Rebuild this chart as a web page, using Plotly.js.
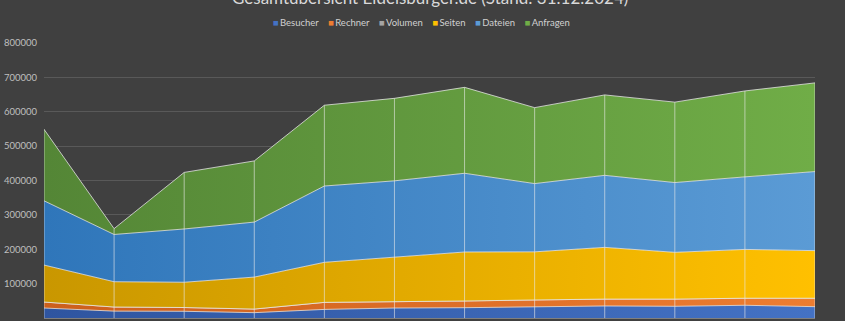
<!DOCTYPE html>
<html><head><meta charset="utf-8">
<script src="https://cdn.plot.ly/plotly-3.0.1.min.js"></script>
<style>html,body{margin:0;padding:0;background:#404040;}#chart{width:845px;height:321px;}</style>
</head><body><div id="chart"></div>
<script>
const months = ["Jan","Feb","Mär","Apr","Mai","Jun","Jul","Aug","Sep","Okt","Nov","Dez"];
const besucher = [29000, 20000, 19500, 15500, 25000, 29000, 30000, 32000, 35000, 34000, 37000, 33000];
const rechner  = [17500, 12000, 11000, 10500, 20500, 17500, 19500, 20500, 20000, 21000, 20500, 24500];
const volumen  = [0, 0, 0, 0, 0, 0, 0, 0, 0, 0, 0, 0];
const seiten   = [107500, 73500, 73500, 93000, 116500, 130000, 142500, 140000, 150500, 136000, 142000, 138500];
const dateien  = [187000, 137500, 155000, 160000, 222000, 222500, 229000, 198500, 209500, 203000, 211000, 230000];
const anfragen = [208000, 17000, 164500, 178000, 235000, 240000, 250000, 221000, 234000, 234000, 250000, 258000];

const seriesNames = ["Besucher","Rechner","Volumen","Seiten","Dateien","Anfragen"];
const seriesValues = [besucher, rechner, volumen, seiten, dateien, anfragen];
const colorsLight = ["#4472C4","#ED7D31","#A5A5A5","#FFC000","#5B9BD5","#70AD47"];
const colorsDark  = ["#2F55A0","#CC5F1C","#8A8A8A","#C99700","#2F76BA","#548636"];

const traces = seriesNames.map((name, i) => ({
  type: 'scatter', mode: 'lines', name: name, x: months, y: seriesValues[i],
  stackgroup: 'one', showlegend: false, hoverinfo: 'skip',
  line: {color: 'rgba(235,235,235,0.75)', width: 1},
  fillcolor: colorsLight[i],
  fillgradient: {type: 'horizontal', colorscale: [[0, colorsDark[i]], [1, colorsLight[i]]]}
}));

// drop lines from 0 to stack total at each category
const totals = months.map((m, j) => seriesValues.reduce((s, arr) => s + arr[j], 0));
const dx = [], dy = [];
months.forEach((m, j) => { dx.push(m, m, null); dy.push(0, totals[j], null); });
traces.push({type: 'scatter', mode: 'lines', x: dx, y: dy, showlegend: false, hoverinfo: 'skip',
  line: {color: 'rgba(235,235,235,0.6)', width: 1}});

const legendText = seriesNames.map((n, i) =>
  `<span style="color:${colorsLight[i]}">■</span>\u2009${n}`).join('&nbsp;&nbsp;&nbsp;&nbsp;');

const layout = {
  width: 845, height: 321,
  paper_bgcolor: '#404040', plot_bgcolor: '#404040',
  font: {family: 'Lato, "Open Sans", sans-serif', color: '#BFBFBF', size: 10},
  margin: {l: 44, r: 30, t: 43, b: 3},
  showlegend: false,
  xaxis: {type: 'category', range: [0, 11], showgrid: false, showticklabels: false, zeroline: false,
          showline: true, linecolor: '#7F7F7F', linewidth: 1, fixedrange: true},
  yaxis: {range: [0, 800000], dtick: 100000, tickformat: 'd', gridcolor: '#595959', gridwidth: 1,
          zeroline: false, showline: false, ticklabelstandoff: 6, tickfont: {size: 9.5, color: '#BFBFBF'}},
  annotations: [
    {text: 'Gesamtübersicht Eidelsburger.de (Stand: 31.12.2024)', xref: 'paper', yref: 'paper',
     x: 0.5, xanchor: 'center', y: 1, yanchor: 'middle', yshift: 43 + 3, showarrow: false,
     font: {size: 17, color: '#D9D9D9'}},
    {text: legendText, xref: 'paper', yref: 'paper', x: 0.49, xanchor: 'center',
     y: (318 - 23) / 275, yanchor: 'middle', showarrow: false, font: {size: 9.5, color: '#D0D0D0'}}
  ]
};
Plotly.newPlot('chart', traces, layout, {staticPlot: true, displayModeBar: false});
</script></body></html>
